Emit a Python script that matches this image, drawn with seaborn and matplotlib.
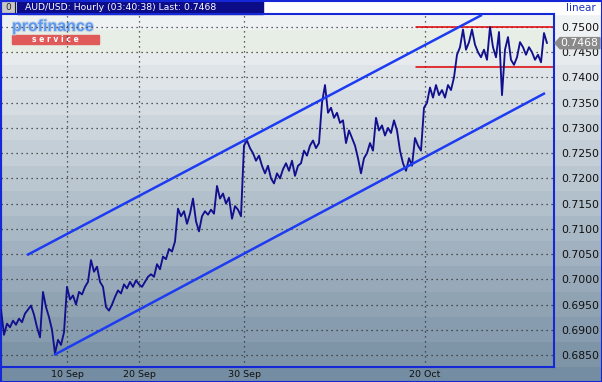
import numpy as np
import pandas as pd
import matplotlib
matplotlib.use("Agg")
import matplotlib.pyplot as plt
import matplotlib.patheffects as pe
from matplotlib.patches import Rectangle, Polygon
from matplotlib.colors import to_rgb
from matplotlib.transforms import blended_transform_factory
import seaborn as sns

# hourly bars (every 3rd bar) and closing price
bar = np.arange(1, 550, 3)
close = [
    0.6940, 0.6890, 0.6912, 0.6905, 0.6918, 0.6910, 0.6922, 0.6915, 0.6932, 0.6940,
    0.6948, 0.6930, 0.6905, 0.6885, 0.6975, 0.6945, 0.6925, 0.6900, 0.6853, 0.6880,
    0.6870, 0.6895, 0.6985, 0.6960, 0.6968, 0.6950, 0.6975, 0.6970, 0.6985, 0.6995,
    0.7038, 0.7015, 0.7025, 0.6995, 0.6985, 0.6945, 0.6938, 0.6950, 0.6965, 0.6978,
    0.6972, 0.6990, 0.6982, 0.6995, 0.6985, 0.6998, 0.6990, 0.6985, 0.6995, 0.7005,
    0.7010, 0.7005, 0.7030, 0.7020, 0.7045, 0.7040, 0.7060, 0.7055, 0.7075, 0.7140,
    0.7125, 0.7135, 0.7110, 0.7130, 0.7160, 0.7115, 0.7095, 0.7125, 0.7135, 0.7128,
    0.7138, 0.7130, 0.7185, 0.7160, 0.7170, 0.7150, 0.7162, 0.7120, 0.7145, 0.7138,
    0.7125, 0.7265, 0.7275, 0.7260, 0.7250, 0.7235, 0.7245, 0.7225, 0.7210, 0.7225,
    0.7200, 0.7190, 0.7210, 0.7200, 0.7218, 0.7230, 0.7215, 0.7235, 0.7205, 0.7225,
    0.7230, 0.7255, 0.7245, 0.7265, 0.7275, 0.7260, 0.7270, 0.7350, 0.7385, 0.7330,
    0.7340, 0.7320, 0.7330, 0.7310, 0.7315, 0.7270, 0.7295, 0.7280, 0.7265, 0.7240,
    0.7210, 0.7240, 0.7250, 0.7270, 0.7255, 0.7320, 0.7295, 0.7305, 0.7285, 0.7300,
    0.7290, 0.7315, 0.7295, 0.7255, 0.7230, 0.7215, 0.7240, 0.7225, 0.7280, 0.7265,
    0.7255, 0.7340, 0.7350, 0.7380, 0.7360, 0.7385, 0.7365, 0.7375, 0.7360, 0.7385,
    0.7375, 0.7400, 0.7445, 0.7460, 0.7495, 0.7455, 0.7470, 0.7495, 0.7465, 0.7450,
    0.7440, 0.7455, 0.7435, 0.7500, 0.7460, 0.7440, 0.7490, 0.7365, 0.7455, 0.7480,
    0.7435, 0.7425, 0.7440, 0.7470, 0.7460, 0.7445, 0.7460, 0.7450, 0.7435, 0.7445,
    0.7430, 0.7488, 0.7468,
]
date_bars = [67, 139, 244, 425]
date_labels = ["10 Sep", "20 Sep", "30 Sep", "20 Oct"]
price_ticks = np.arange(0.6850, 0.75001, 0.005)

# trend channel and horizontal levels drawn on the chart
upper_bars, upper_vals = [27, 482], [0.7048, 0.7524]
lower_bars, lower_vals = [54, 545], [0.6850, 0.7369]
level_vals = [0.7500, 0.7420]
level_from = 416
last_price = 0.7468

df = pd.DataFrame({"bar": bar, "close": close})

sns.set_theme(style="white")
plt.rcParams["font.family"] = ["DejaVu Sans"]

W, H = 602, 382
fig = plt.figure(figsize=(W / 100, H / 100), dpi=100)

# background in pixel coords with a stepped vertical gradient
bg = fig.add_axes([0, 0, 1, 1])
bg.set_xlim(0, W)
bg.set_ylim(H, 0)
bg.axis("off")
top_c = np.array(to_rgb("#f3f5f6"))
bot_c = np.array(to_rgb("#728ba0"))
rows = np.arange(H)
band = np.floor((rows - 14) / 25.2) * 25.2 + 14
t = np.clip((band - 5) / (H - 10), 0, 1)
grad = top_c[None, :] + (bot_c - top_c)[None, :] * t[:, None]
bg.imshow(grad[:, None, :], extent=[0, W, H, 0], aspect="auto", zorder=0)
bg.add_patch(Rectangle((0, 30), 554, 22, color="#e6eee5", zorder=0.5))
bg.add_patch(Rectangle((263, 0), W - 263, 14, color="white", zorder=1))

# title bar and button
bg.add_patch(Rectangle((17, 0), 246, 14, color="#0c0c88", zorder=2))
bg.text(25, 7.5, "AUD/USD: Hourly (03:40:38) Last: 0.7468", color="white",
        fontsize=6.7, va="center", ha="left", zorder=3)
bg.add_patch(Rectangle((1, 1), 14, 12, facecolor="#c8c8c8", edgecolor="#202020",
                       lw=0.8, zorder=2))
bg.text(8, 7.5, "0", fontsize=6.5, ha="center", va="center", zorder=3)
bg.text(581, 8, "linear", color="#1a30c8", fontsize=7.5, ha="center",
        va="center", zorder=3)

# logo
bg.text(12, 31, "profinance", fontsize=11.5, fontweight="bold", color="#5b9af0",
        family="Liberation Sans", ha="left", va="baseline", zorder=3,
        path_effects=[pe.withStroke(linewidth=1.5, foreground="#c8d4e4")])
bg.add_patch(Rectangle((12, 35), 87, 9, color="#e05a5a", zorder=2))
bg.text(55, 39.6, "s e r v i c e", fontsize=5.5, fontweight="bold", color="white",
        ha="center", va="center", zorder=3)

# outer frame
bg.add_patch(Rectangle((0.5, 0.5), W - 1, H - 1, fill=False, edgecolor="#1428d8",
                       lw=1.5, zorder=4))

# price chart
k = 0.065 / 328
ax = fig.add_axes([1 / W, 1 - 367 / H, 553 / W, 353 / H])
ax.set_facecolor("none")
ax.set_xlim(1, 554)
ax.set_ylim(0.6850 - 12 * k, 0.7500 + 13 * k)

sns.lineplot(data=df, x="bar", y="close", ax=ax, color="#12108e", lw=1.35,
             zorder=3)
ax.plot(upper_bars, upper_vals, color="#1d3cf2", lw=1.8, zorder=4,
        solid_capstyle="butt")
ax.plot(lower_bars, lower_vals, color="#1d3cf2", lw=1.8, zorder=4,
        solid_capstyle="butt")
for v in level_vals:
    ax.plot([level_from, 554], [v, v], color="#e00000", lw=1.1, zorder=2)

ax.set_xticks(date_bars)
ax.set_xticklabels(date_labels)
ax.set_yticks(price_ticks)
ax.set_yticklabels([f"{v:.4f}" for v in price_ticks])
ax.yaxis.tick_right()
ax.tick_params(axis="both", length=0, colors="#101010")
ax.tick_params(axis="y", pad=5, labelsize=7.8)
ax.tick_params(axis="x", pad=2, labelsize=6.8)
ax.set_xlabel("")
ax.set_ylabel("")
ax.grid(True, color="#303030", linestyle=(0, (1, 3)), lw=0.9)
for s in ax.spines.values():
    s.set_color("#1428d8")
    s.set_linewidth(1.5)

# last price tag on the right scale
tr = blended_transform_factory(bg.transData, ax.transData)
d = 0.0011
tag = Polygon([(555, last_price), (560, last_price + d), (600, last_price + d),
               (600, last_price - d), (560, last_price - d)],
              closed=True, color="#8a8a8a", transform=tr, clip_on=False, zorder=5)
ax.add_patch(tag)
ax.text(579, last_price, f"{last_price:.4f}", color="white", fontsize=7.8,
        ha="center", va="center", transform=tr, clip_on=False, zorder=6)

fig.savefig("out.png", dpi=100)
